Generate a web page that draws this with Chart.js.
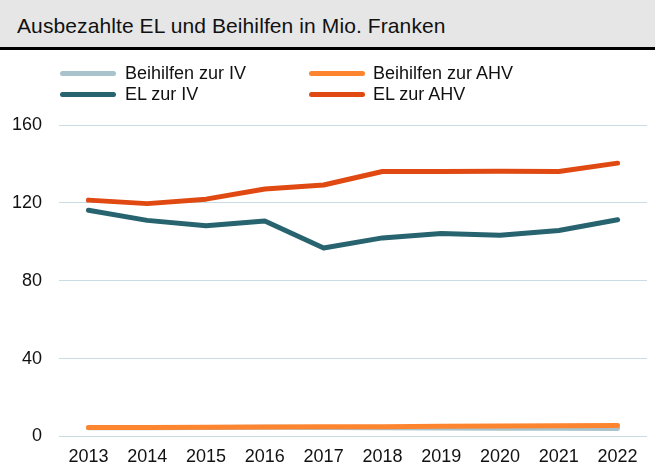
<!DOCTYPE html>
<html>
<head>
<meta charset="utf-8">
<script src="https://cdn.jsdelivr.net/npm/chart.js@4"></script>
<style>
  html, body { margin: 0; padding: 0; background: #fff; }
  #wrap { position: relative; width: 655px; height: 468px; overflow: hidden; font-family: "Liberation Sans", Arial, sans-serif; }
  #title {
    position: absolute; left: 0; top: 0; width: 655px; height: 50px;
    background: #e6e6e6; border-bottom: 3px solid #000;
    font-size: 21px; letter-spacing: 0.1px; color: #111; line-height: 51px; padding-left: 17px; box-sizing: border-box;
  }
  #legend { position: absolute; left: 0; top: 62px; width: 655px; }
  .item { position: absolute; font-size: 18px; color: #111; line-height: 22px; white-space: nowrap; }
  .item span.sw { position: absolute; top: 9px; height: 5px; border-radius: 3px; }
  canvas { position: absolute; left: 0; top: 0; }
</style>
</head>
<body>
<div id="wrap">
  <canvas id="chart" width="655" height="468"></canvas>
  <div id="title">Ausbezahlte EL und Beihilfen in Mio. Franken</div>
  <div id="legend"></div>
</div>
<script>
// =====================
// DATA
// =====================
const years = ["2013", "2014", "2015", "2016", "2017", "2018", "2019", "2020", "2021", "2022"];
const elAhv = [121.4, 119.6, 121.9, 127.1, 129.2, 136.1, 136.1, 136.3, 136.1, 140.4];
const elIv = [116.2, 111.0, 108.2, 110.7, 96.8, 102.0, 104.3, 103.4, 105.8, 111.3];
const beihilfenAhv = [4.6, 4.6, 4.7, 4.8, 4.9, 5.0, 5.2, 5.4, 5.5, 5.6];
const beihilfenIv = [4.5, 4.5, 4.6, 4.7, 4.6, 4.5, 4.3, 4.2, 4.2, 4.1];
const yTicks = [0, 40, 80, 120, 160];

const COLORS = {
  beihilfenIv: "#a8c3cb",
  beihilfenAhv: "#fd8530",
  elIv: "#27646f",
  elAhv: "#e04a12"
};

// =====================
// LEGEND (two columns)
// =====================
const legendItems = [
  { label: "Beihilfen zur IV", color: COLORS.beihilfenIv, col: 0, row: 0 },
  { label: "Beihilfen zur AHV", color: COLORS.beihilfenAhv, col: 1, row: 0 },
  { label: "EL zur IV", color: COLORS.elIv, col: 0, row: 1 },
  { label: "EL zur AHV", color: COLORS.elAhv, col: 1, row: 1 }
];
const legend = document.getElementById("legend");
legendItems.forEach(it => {
  const div = document.createElement("div");
  div.className = "item";
  const x0 = it.col === 0 ? 60 : 309;
  div.style.left = x0 + "px";
  div.style.top = (it.row * 21) + "px";
  div.style.paddingLeft = (it.col === 0 ? 65 : 64) + "px";
  div.innerHTML = `<span class="sw" style="left:0;width:56px;background:${it.color}"></span>${it.label}`;
  legend.appendChild(div);
});

// =====================
// CHART
// =====================
const line = (label, data, color) => ({
  label, data,
  borderColor: color,
  backgroundColor: color,
  borderWidth: 5,
  borderCapStyle: "round",
  borderJoinStyle: "round",
  pointRadius: 0,
  tension: 0
});

new Chart(document.getElementById("chart"), {
  type: "line",
  data: {
    labels: years,
    datasets: [
      line("EL zur AHV", elAhv, COLORS.elAhv),
      line("EL zur IV", elIv, COLORS.elIv),
      line("Beihilfen zur AHV", beihilfenAhv, COLORS.beihilfenAhv),
      line("Beihilfen zur IV", beihilfenIv, COLORS.beihilfenIv)
    ]
  },
  options: {
    responsive: false,
    animation: false,
    layout: { padding: { top: 125, left: -5, right: 8, bottom: -10 } },
    plugins: {
      legend: { display: false },
      title: { display: false },
      tooltip: { enabled: false }
    },
    scales: {
      x: {
        offset: true,
        grid: { display: false, drawTicks: false },
        border: { display: false },
        ticks: {
          color: "#111",
          padding: 10,
          maxRotation: 0,
          font: { family: "'Liberation Sans', Arial, sans-serif", size: 18 }
        }
      },
      y: {
        min: 0,
        max: 160,
        afterBuildTicks: axis => { axis.ticks = yTicks.map(v => ({ value: v })); },
        grid: { color: "#c9dbe3", lineWidth: 1, drawTicks: false },
        border: { display: false },
        ticks: {
          color: "#111",
          padding: 17,
          font: { family: "'Liberation Sans', Arial, sans-serif", size: 18 }
        }
      }
    }
  }
});
</script>
</body>
</html>
